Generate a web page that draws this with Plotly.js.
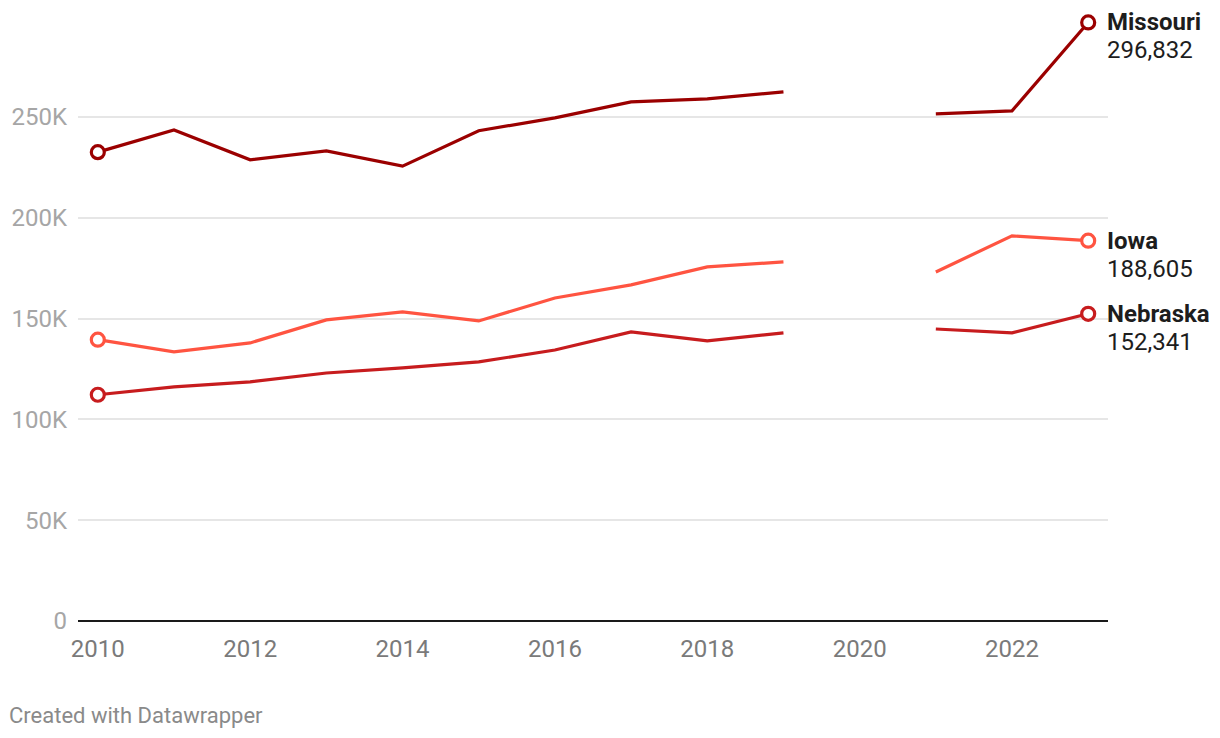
<!DOCTYPE html>
<html>
<head>
<meta charset="utf-8">
<script src="https://cdn.plot.ly/plotly-3.0.1.min.js"></script>
<style>
html,body{margin:0;padding:0;background:#fff;}
#chart{width:1220px;height:738px;}
</style>
</head>
<body>
<div id="chart"></div>
<script>
const years = [2010,2011,2012,2013,2014,2015,2016,2017,2018,2019,2020,2021,2022,2023];
const missouri = [232500,243500,228700,233100,225600,243100,249500,257400,258900,262400,null,251500,253000,296832];
const iowa     = [139500,133500,137900,149300,153300,148800,160200,166700,175600,178100,null,173100,191000,188605];
const nebraska = [112200,116100,118600,123000,125500,128500,134400,143400,138900,142900,null,144800,142900,152341];
const seriesNames = ['Missouri','Iowa','Nebraska'];
const seriesColors = ['#9b0000','#ff5441','#c71c1e'];
const endLabels = ['296,832','188,605','152,341'];
const yTickVals = [0,50000,100000,150000,200000,250000];
const yTickText = ['0','50K','100K','150K','200K','250K'];
const xTickVals = [2010,2012,2014,2016,2018,2020,2022];

const allSeries = [missouri, iowa, nebraska];
const traces = [];
const annotations = [];
allSeries.forEach((vals, i) => {
  traces.push({
    x: years, y: vals, type: 'scatter', mode: 'lines',
    line: {color: seriesColors[i], width: 3.2},
    connectgaps: false, hoverinfo: 'skip', showlegend: false
  });
  const last = vals.length - 1;
  traces.push({
    x: [years[0], years[last]], y: [vals[0], vals[last]],
    type: 'scatter', mode: 'markers',
    marker: {symbol: 'circle', size: 13, color: '#ffffff', line: {color: seriesColors[i], width: 3.2}},
    hoverinfo: 'skip', showlegend: false, cliponaxis: false
  });
  annotations.push({
    x: years[last], y: vals[last], xref: 'x', yref: 'y',
    text: '<b>' + seriesNames[i] + '</b>', showarrow: false,
    xanchor: 'left', yanchor: 'middle', xshift: 17,
    font: {family: 'Roboto', size: 24, color: '#1d1d1d'}
  });
  annotations.push({
    x: years[last], y: vals[last], xref: 'x', yref: 'y',
    text: endLabels[i], showarrow: false,
    xanchor: 'left', yanchor: 'middle', xshift: 17, yshift: -28,
    font: {family: 'Roboto', size: 24, color: '#1d1d1d'}
  });
});
annotations.push({
  x: 0, y: 0, xref: 'paper', yref: 'paper', xanchor: 'left', yanchor: 'middle',
  text: 'Created with Datawrapper', showarrow: false,
  xshift: -71, yshift: -94,
  font: {family: 'Roboto', size: 22, color: '#8a8a8a'}
});

const layout = {
  width: 1220, height: 738,
  margin: {l: 78, r: 112, t: 10, b: 117},
  paper_bgcolor: '#ffffff', plot_bgcolor: '#ffffff',
  font: {family: 'Roboto'},
  showlegend: false,
  xaxis: {
    range: [2009.74, 2023.26], tickvals: xTickVals, ticktext: xTickVals.map(String),
    showgrid: false, zeroline: false, showline: false, ticks: '',
    ticklabelstandoff: 11,
    tickfont: {family: 'Roboto', size: 24, color: '#7a7a7a'}
  },
  yaxis: {
    range: [0, 303000], tickvals: yTickVals, ticktext: yTickText,
    showgrid: true, gridcolor: '#e6e6e6', gridwidth: 2,
    zeroline: true, zerolinecolor: '#1a1a1a', zerolinewidth: 2,
    showline: false, ticks: '', ticklabelstandoff: 10,
    tickfont: {family: 'Roboto', size: 24, color: '#a6a6a6'}
  },
  annotations: annotations
};
Plotly.newPlot('chart', traces, layout, {displayModeBar: false, staticPlot: true});
</script>
</body>
</html>
